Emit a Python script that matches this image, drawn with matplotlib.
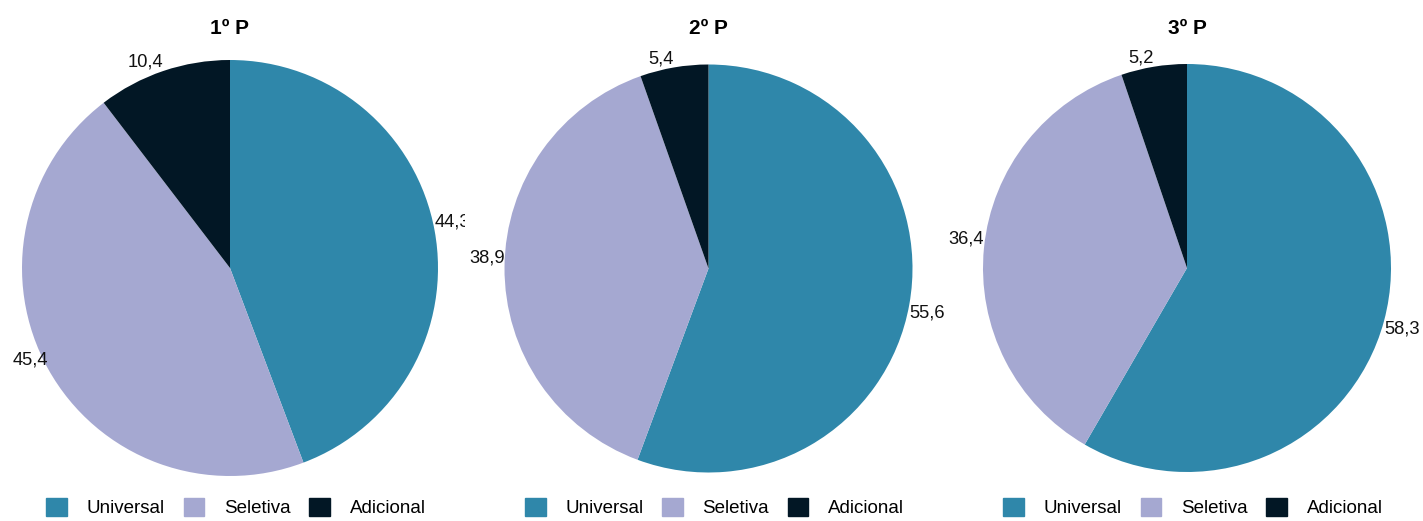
import numpy as np
import matplotlib.pyplot as plt
from matplotlib.transforms import Bbox

plt.rcParams['font.family'] = ['Liberation Sans', 'DejaVu Sans']

# data
periods = ["1º P", "2º P", "3º P"]
categories = ["Universal", "Seletiva", "Adicional"]
universal = [44.3, 55.6, 58.3]
seletiva = [45.4, 38.9, 36.4]
adicional = [10.4, 5.4, 5.2]
colors = ["#2f87aa", "#a5a8d1", "#021725"]

W, H = 1423, 521
fig = plt.figure(figsize=(W / 100, H / 100), dpi=100)

# pie boxes in pixels: center x, center y (from top), radius
boxes = [(230, 268, 208), (708.5, 268.5, 204), (1187, 268, 204)]

for i, (cx, cy, r) in enumerate(boxes):
    ax = fig.add_axes([(cx - r) / W, (H - cy - r) / H, 2 * r / W, 2 * r / H])
    vals = [universal[i], seletiva[i], adicional[i]]
    wedges, _ = ax.pie(vals, colors=colors, startangle=90, counterclock=False,
                       wedgeprops=dict(linewidth=0))
    ax.set_xlim(-1, 1)
    ax.set_ylim(-1, 1)
    ax.set_aspect("equal")

    # labels at the rim of each slice
    for w, v in zip(wedges, vals):
        ang = np.deg2rad((w.theta1 + w.theta2) / 2)
        x, y = np.cos(ang), np.sin(ang)
        ha = "left" if x > 0 else "right"
        va = "top" if (x > 0 and y < 0) else "bottom"
        t = ax.text(x, y, f"{v:.1f}".replace(".", ","), ha=ha, va=va,
                    fontsize=13.2, color="#111111")
        if i == 0 and x > 0:
            # the first panel's right label gets cut off in the original
            t.set_clip_path(None)
            t.set_clip_box(Bbox.from_extents(0, 0, 465, H))
            t.set_clip_on(True)

    fig.text(cx / W, (H - 28) / H, periods[i], ha="center", va="center",
             fontsize=15, fontweight="bold")

    handles = [plt.Rectangle((0, 0), 1, 1, color=c) for c in colors]
    fig.legend(handles, categories, loc="upper center",
               bbox_to_anchor=((cx + 6) / W, (H - 498) / H),
               ncol=3, frameon=False, fontsize=13.5,
               handlelength=1.1, handleheight=1.1, handletextpad=1.05,
               columnspacing=1.0, borderpad=0, borderaxespad=0)

fig.savefig("out.png", dpi=100)
